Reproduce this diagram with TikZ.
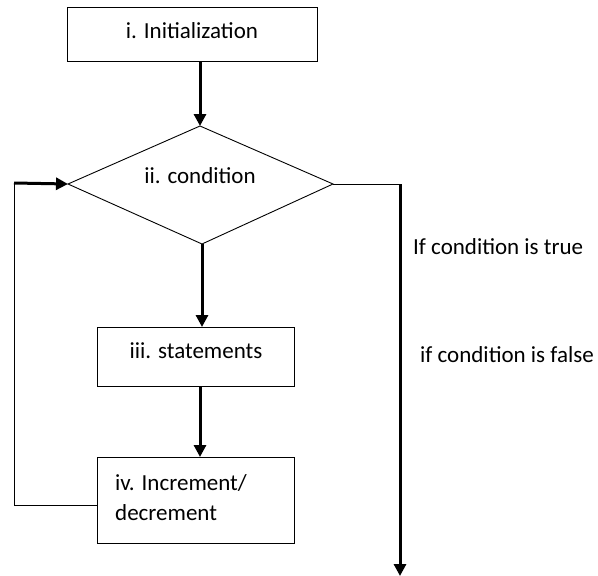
\documentclass[tikz,border=0pt]{standalone}
\usepackage{fontspec}
\setmainfont{Carlito}
\usetikzlibrary{shapes.geometric,arrows.meta}
\begin{document}
\begin{tikzpicture}[x=1pt,y=-1pt,
  boxst/.style={draw,line width=0.9pt,inner sep=0pt},
  btxt/.style={font=\fontsize{23}{30}\selectfont,inner sep=0pt},
  lbl/.style={font=\fontsize{23}{27}\selectfont,inner sep=0pt},
  arr/.style={line width=3pt,-{Triangle[length=12pt,width=12pt]}},
  thinln/.style={line width=0.9pt}]
\useasboundingbox (0,0) rectangle (598,576);
\node[boxst,minimum width=250pt,minimum height=54pt] (init) at (192,34) {};
\node[btxt] (initt) at (192,31) {i. Initialization};
\coordinate (dt) at (200,126);
\coordinate (dl) at (68,184);
\coordinate (dr) at (333,184);
\coordinate (db) at (202,244);
\draw[thinln] (dt) -- (dr) -- (db) -- (dl) -- cycle;
\node[btxt] (cond) at (200,176) {ii. condition};
\node[boxst,minimum width=197pt,minimum height=59pt] (stmt) at (195.5,356.5) {};
\node[btxt] (stmtt) at (196,351) {iii. statements};
\node[boxst,minimum width=197pt,minimum height=86pt] (inc) at (195.5,500) {};
\node[btxt,align=left,anchor=west] (inct1) at (115,483) {iv. Increment/};
\node[btxt,align=left,anchor=west] (inct2) at (115,513) {decrement};
\draw[arr] (200,61) -- (dt);
\draw[arr] (db) -- (202,327);
\draw[arr] (200,386) -- (200,457);
\coordinate (lc1) at (14,505);
\coordinate (lc2) at (14,183);
\draw[thinln] (97,505) -- (lc1) -- (lc2);
\draw[arr] (lc2) -- (dl);
\coordinate (rc) at (400,184);
\draw[thinln] (dr) -- (rc);
\draw[arr] (rc) -- (400,576);
\node[lbl,anchor=west] (tlab) at (413,247) {If condition is true};
\node[lbl,anchor=west] (flab) at (420,355) {if condition is false};
\end{tikzpicture}
\end{document}
